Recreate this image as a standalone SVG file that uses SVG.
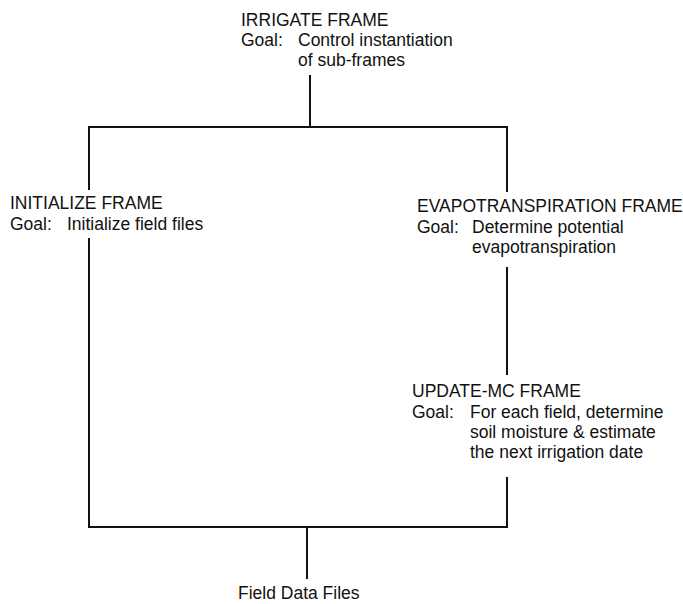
<svg xmlns="http://www.w3.org/2000/svg" width="683" height="604" viewBox="0 0 683 604">
<style>
text{font-family:"Liberation Sans",Arial,Helvetica,sans-serif;font-size:17.5px;fill:#111}
.c{stroke:#111;stroke-width:2;fill:none}
</style>
<rect width="683" height="604" fill="#fff"/>
<g id="connectors">
<polyline class="c" points="89,190 89,127 507,127 507,192"/>
<line class="c" x1="310" y1="75" x2="310" y2="127"/>
<polyline class="c" points="89,238 89,527 507,527 507,477"/>
<line class="c" x1="507" y1="267" x2="507" y2="375"/>
<line class="c" x1="307" y1="527" x2="307" y2="579"/>
</g>
<g id="irrigate">
<text x="241" y="26">IRRIGATE FRAME</text>
<text x="241" y="46">Goal:</text>
<text x="298" y="46">Control instantiation</text>
<text x="298" y="66">of sub-frames</text>
</g>
<g id="initialize">
<text x="10" y="209">INITIALIZE FRAME</text>
<text x="10" y="230">Goal:</text>
<text x="67" y="230">Initialize field files</text>
</g>
<g id="evapotranspiration">
<text x="417" y="212">EVAPOTRANSPIRATION FRAME</text>
<text x="417" y="233">Goal:</text>
<text x="472" y="233">Determine potential</text>
<text x="472" y="253">evapotranspiration</text>
</g>
<g id="update-mc">
<text x="412" y="397">UPDATE-MC FRAME</text>
<text x="412" y="418">Goal:</text>
<text x="470" y="418">For each field, determine</text>
<text x="470" y="438">soil moisture &amp; estimate</text>
<text x="470" y="458">the next irrigation date</text>
</g>
<g id="field-data-files">
<text x="238" y="599">Field Data Files</text>
</g>
</svg>
